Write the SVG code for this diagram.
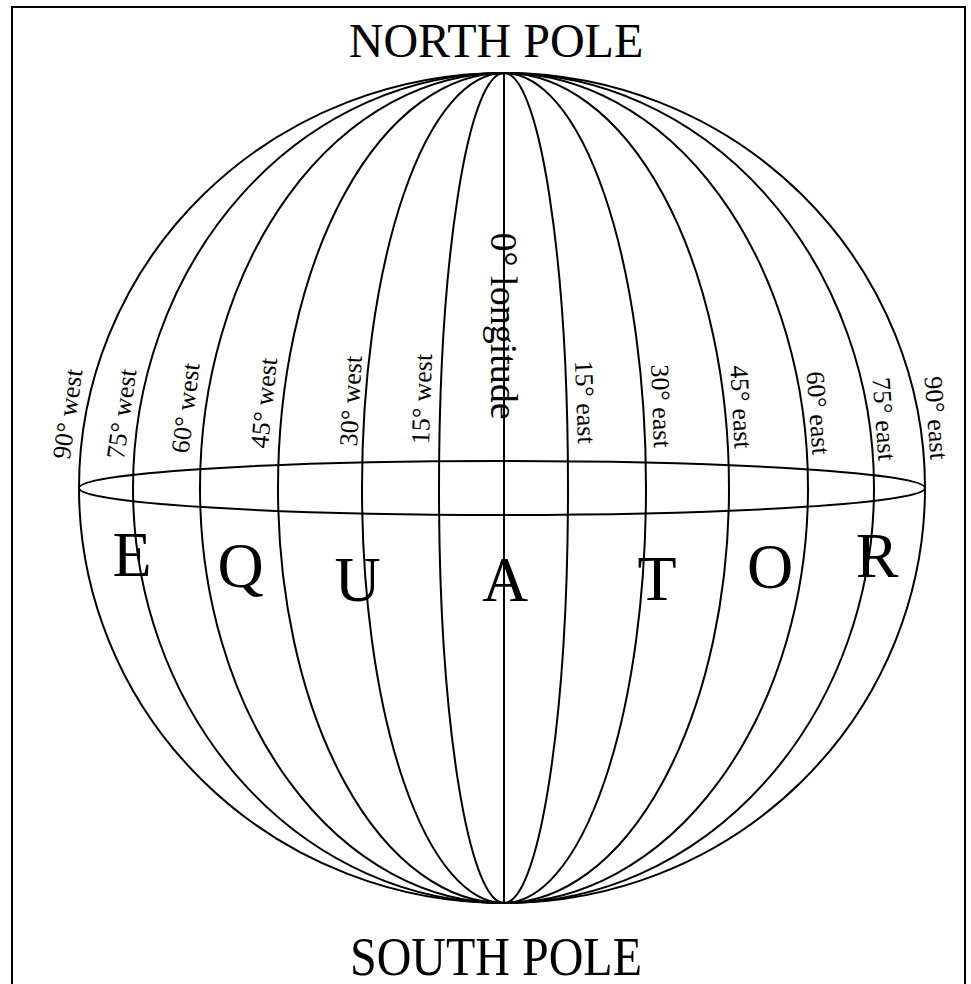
<svg xmlns="http://www.w3.org/2000/svg" width="971" height="984" viewBox="0 0 971 984">
<style>
.ln{fill:none;stroke:#000;stroke-width:2}
.t{font-family:"Liberation Serif","Times New Roman",serif;fill:#000}
.lab{font-size:26px;text-anchor:middle;dominant-baseline:central}
.eq{font-size:64px;text-anchor:middle}
.pole{font-size:48px;text-anchor:middle}
</style>
<rect x="0" y="0" width="971" height="984" fill="#fff"/>
<rect id="frame" class="ln" x="12" y="7" width="953" height="1000"/>
<g id="meridians">
<line class="ln" x1="504" y1="73" x2="504" y2="903"/>
<path class="ln" d="M504 73A65 415 0 0 0 504 903"/>
<path class="ln" d="M504 73A142 415 0 0 0 504 903"/>
<path class="ln" d="M504 73A226 415 0 0 0 504 903"/>
<path class="ln" d="M504 73A304 415 0 0 0 504 903"/>
<path class="ln" d="M504 73A371 415 0 0 0 504 903"/>
<path class="ln" d="M504 73A425 415 0 0 0 504 903"/>
<path class="ln" d="M504 73A64 415 0 0 1 504 903"/>
<path class="ln" d="M504 73A142 415 0 0 1 504 903"/>
<path class="ln" d="M504 73A225 415 0 0 1 504 903"/>
<path class="ln" d="M504 73A304 415 0 0 1 504 903"/>
<path class="ln" d="M504 73A370 415 0 0 1 504 903"/>
<path class="ln" d="M504 73A421 415 0 0 1 504 903"/>
</g>
<g id="equator">
<ellipse class="ln" cx="502" cy="488" rx="423" ry="27"/>
</g>
<g id="labels" class="t">
<text class="lab" transform="translate(67.7 414) rotate(-82)">90° west</text>
<text class="lab" transform="translate(121.7 414) rotate(-82)">75° west</text>
<text class="lab" transform="translate(185.7 408) rotate(-83)">60° west</text>
<text class="lab" transform="translate(264 403) rotate(-84)">45° west</text>
<text class="lab" transform="translate(351 401) rotate(-87)">30° west</text>
<text class="lab" transform="translate(422 399) rotate(-88)">15° west</text>
<text class="lab" style="font-size:38px" transform="translate(504 326) rotate(90)">0° longitude</text>
<text class="lab" transform="translate(585 402) rotate(88)">15° east</text>
<text class="lab" transform="translate(661 406) rotate(88)">30° east</text>
<text class="lab" transform="translate(741 407) rotate(87)">45° east</text>
<text class="lab" transform="translate(818 413) rotate(86)">60° east</text>
<text class="lab" transform="translate(884 419) rotate(86)">75° east</text>
<text class="lab" transform="translate(936 418) rotate(86)">90° east</text>
</g>
<g id="equator-letters" class="t">
<text class="eq" x="132" y="576">E</text>
<text class="eq" x="240.5" y="587">Q</text>
<text class="eq" x="357.5" y="601">U</text>
<text class="eq" x="505" y="601">A</text>
<text class="eq" x="657" y="600">T</text>
<text class="eq" x="770" y="588">O</text>
<text class="eq" x="877" y="577">R</text>
</g>
<g id="north-pole" class="t"><text class="pole" x="496" y="57">NORTH POLE</text></g>
<g id="south-pole" class="t"><text class="pole" transform="translate(496 975) scale(1 1.15)">SOUTH POLE</text></g>
</svg>
